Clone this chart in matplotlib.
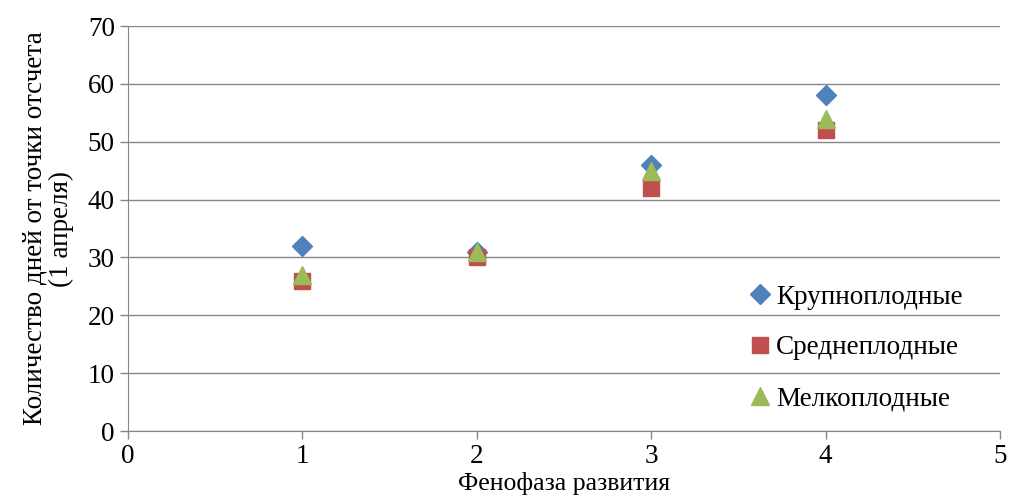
import matplotlib.pyplot as plt
import matplotlib.ticker as ticker

plt.rcParams['font.family'] = ['Liberation Serif', 'DejaVu Serif']

phase = [1, 2, 3, 4]
large = [32, 31, 46, 58]
medium = [26, 30, 42, 52]
small = [27, 31, 45, 54]

fig = plt.figure(figsize=(10.1, 5.04), dpi=100)
ax = fig.add_axes([0.1267, 0.1448, 0.8633, 0.8036])

ax.plot(phase, large, linestyle='none', marker='D', markersize=10.5,
        color='#4F81BD', label='Крупноплодные', zorder=3)
ax.plot(phase, medium, linestyle='none', marker='s', markersize=11,
        color='#C0504D', label='Среднеплодные', zorder=4)
ax.plot(phase, small, linestyle='none', marker='^', markersize=13,
        color='#9BBB59', label='Мелкоплодные', zorder=5)

ax.set_xlim(0, 5)
ax.set_ylim(0, 70)
ax.xaxis.set_major_locator(ticker.MultipleLocator(1))
ax.yaxis.set_major_locator(ticker.MultipleLocator(10))
ax.yaxis.grid(True, color='#868686', linewidth=1)
ax.set_axisbelow(True)

for side in ['top', 'right']:
    ax.spines[side].set_visible(False)
for side in ['left', 'bottom']:
    ax.spines[side].set_color('#868686')
ax.tick_params(axis='both', colors='#868686', labelcolor='black',
               labelsize=19.5, length=6, width=1)
ax.tick_params(axis='x', pad=3)

# x label placed by hand so it stays inside the figure
ax.set_xlabel('Фенофаза развития', fontsize=18.5)
ax.xaxis.set_label_coords(0.5, -0.102)
ax.xaxis.label.set_va('top')
ax.set_ylabel('Количество дней от точки отсчета\n(1 апреля)', fontsize=19.5,
              labelpad=10, linespacing=1.05)

ax.legend(loc='center left', bbox_to_anchor=(0.70, 0.205), frameon=False,
          fontsize=19.5, labelspacing=0.95, handlelength=0.8,
          handletextpad=0.2, borderaxespad=0)

fig.savefig('out.png', dpi=100)
